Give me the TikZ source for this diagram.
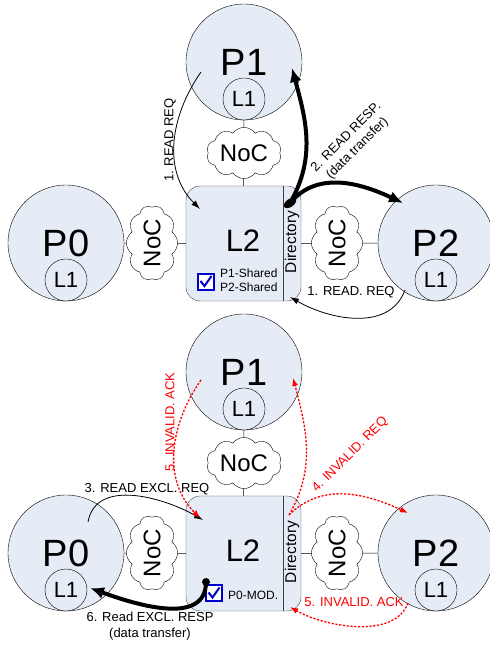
\documentclass[tikz,border=0pt]{standalone}
\usepackage{fontspec}
\setmainfont{Liberation Sans}
\usetikzlibrary{shapes.symbols,arrows.meta,positioning}
\definecolor{procblue}{RGB}{230,236,246}
\definecolor{chkblue}{RGB}{0,0,204}

\begin{document}
\begin{tikzpicture}[x=1pt,y=1pt,
		proc/.style={circle,draw,fill=procblue,minimum size=116pt,inner sep=0pt,font=\fontsize{38}{38}\selectfont},
		lone/.style={circle,draw,fill=procblue,minimum size=42pt,inner sep=0pt,font=\fontsize{22}{22}\selectfont},
		noc/.style={cloud,cloud puffs=10,cloud puff arc=110,aspect=1.6,draw,fill=white,minimum width=75pt,minimum height=45pt,inner sep=0pt,font=\fontsize{24}{24}\selectfont},
		ltwo/.style={draw=black!75,fill=procblue,rounded corners=14pt,minimum size=115pt,inner sep=0pt},
		lbl/.style={font=\fontsize{13}{16}\selectfont,inner sep=1pt},
		req/.style={-{Latex[length=9pt,width=6pt]},line width=0.8pt},
		resp/.style={-{Latex[length=14pt,width=12pt]},line width=4pt},
		inv/.style={-{Latex[length=8pt,width=6pt]},red,dash pattern=on 2.2pt off 1.6pt,line width=1.3pt},
		chkbox/.style={draw=chkblue,line width=2pt,fill=white,minimum size=16pt,inner sep=0pt}]
		\useasboundingbox (0,0) rectangle (490,646);
		\clip (0,0) rectangle (490,646);
		% read request, P1 gets the line from P2
		\node[proc] (p1a) at (244,584) {P1};
		\node[lone] (l1p1a) at (244,547) {L1};
		\node[proc] (p0a) at (66,403) {P0};
		\node[lone] (l1p0a) at (66,366) {L1};
		\node[proc] (p2a) at (436,403) {P2};
		\node[lone] (l1p2a) at (436,366) {L1};
		\node[ltwo] (l2a) at (243.5,402.5) {};
		\draw[black!75] ([xshift=-18pt]l2a.north east) -- ([xshift=-18pt]l2a.south east);
		\node[font=\fontsize{31}{31}\selectfont] (l2txta) at (243,405) {L2};
		\node[rotate=90,font=\fontsize{15.5}{15.5}\selectfont] (dira) at (292,404) {Directory};
		\draw (p1a) -- (l2a);
		\draw (p0a) -- (l2a);
		\draw (l2a) -- (p2a);
		\node[noc] (noc1a) at (244,493) {NoC};
		\node[noc,rotate=90] (noc0a) at (152,403) {NoC};
		\node[noc,rotate=90] (noc2a) at (337,403) {NoC};
		\node[chkbox] (chka) at (205.5,364) {};
		\draw[chkblue,line width=2pt] ([shift={(-5,1)}]chka.center) -- ([shift={(-1,-4)}]chka.center) -- ([shift={(6,6)}]chka.center);
		\node[font=\fontsize{12}{12}\selectfont,anchor=west,inner sep=0pt] (sh1a) at (220,373) {P1-Shared};
		\node[font=\fontsize{12}{12}\selectfont,anchor=west,inner sep=0pt] (sh2a) at (220,359) {P2-Shared};
		\coordinate (a1s) at (201,574);
		\coordinate (a1e) at (200,437);
		\coordinate (dsa) at (290,443);
		\coordinate (a2u) at (292,578);
		\coordinate (a2r) at (403,443);
		\coordinate (b1s) at (405,356);
		\coordinate (b1e) at (290,349);
		\draw[req] (a1s) to[out=235,in=135] (a1e);
		\draw[resp] (dsa) to[out=60,in=-75] (a2u);
		\draw[resp] (dsa) to[out=50,in=155] (a2r);
		\fill[shift={(dsa)},rotate=35] (0,0) ellipse (7 and 4);
		\draw[req] (b1s) to[out=250,in=-30] (b1e);
		\node[lbl,rotate=90] (rr1a) at (170,506) {1. READ REQ};
		\node[lbl,rotate=45,align=center] (rr2a) at (352,503) {2. READ RESP.\\(data transfer)};
		\node[lbl] (rr1b) at (351,354) {1. READ. REQ};
		% read exclusive, P1 and P2 get invalidated
		\node[proc] (p1b) at (244,274) {P1};
		\node[lone] (l1p1b) at (244,237) {L1};
		\node[proc] (p0b) at (66,93) {P0};
		\node[lone] (l1p0b) at (66,56) {L1};
		\node[proc] (p2b) at (436,93) {P2};
		\node[lone] (l1p2b) at (436,56) {L1};
		\node[ltwo] (l2b) at (243.5,92.5) {};
		\draw[black!75] ([xshift=-18pt]l2b.north east) -- ([xshift=-18pt]l2b.south east);
		\node[font=\fontsize{31}{31}\selectfont] (l2txtb) at (243,95) {L2};
		\node[rotate=90,font=\fontsize{15.5}{15.5}\selectfont] (dirb) at (292,94) {Directory};
		\draw (p1b) -- (l2b);
		\draw (p0b) -- (l2b);
		\draw (l2b) -- (p2b);
		\node[noc] (noc1b) at (244,183) {NoC};
		\node[noc,rotate=90] (noc0b) at (152,93) {NoC};
		\node[noc,rotate=90] (noc2b) at (337,93) {NoC};
		\node[chkbox] (chkb) at (213.5,52.5) {};
		\draw[chkblue,line width=2pt] ([shift={(-5,1)}]chkb.center) -- ([shift={(-1,-4)}]chkb.center) -- ([shift={(6,6)}]chkb.center);
		\node[font=\fontsize{12}{12}\selectfont,anchor=west,inner sep=0pt] (modb) at (228,51) {P0-MOD.};
		\coordinate (c3s) at (88,124);
		\coordinate (c3e) at (203,126);
		\coordinate (c6s) at (206,64);
		\coordinate (c6e) at (90,58);
		\coordinate (c5s) at (201,266);
		\coordinate (c5e) at (200,128);
		\coordinate (dsb) at (289,131);
		\coordinate (c4u) at (293,268);
		\coordinate (c4r) at (408,133);
		\coordinate (d5s) at (408,43);
		\coordinate (d5e) at (290,39);
		\draw[req] (c3s) to[out=80,in=150] (c3e);
		\draw[resp] (c6s) to[out=-90,in=-20] (c6e);
		\fill (c6s) circle (4);
		\draw[inv] (c5s) to[out=235,in=135] (c5e);
		\draw[inv] (dsb) to[out=60,in=-75] (c4u);
		\draw[inv] (dsb) to[out=45,in=155] (c4r);
		\draw[inv] (d5s) to[out=250,in=-30,looseness=0.85] (d5e);
		\node[lbl] (rr3) at (147,157) {3. READ EXCL. REQ};
		\node[lbl,align=center] (rr6) at (150,20) {6. Read EXCL. RESP\\(data transfer)};
		\node[lbl,red,rotate=90] (rr5a) at (170,224) {5. INVALID. ACK};
		\node[lbl,red,rotate=45] (rr4) at (350,191) {4. INVALID. REQ};
		\node[lbl,red] (rr5b) at (354,44) {5. INVALID. ACK};
	\end{tikzpicture}
\end{document}
